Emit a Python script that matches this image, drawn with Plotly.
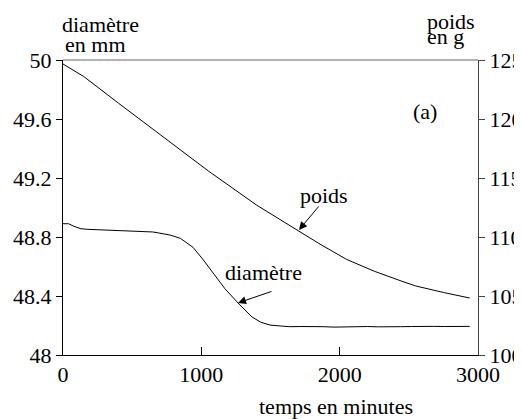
import plotly.graph_objects as go

# ---- data ----
poids_t = [0, 150, 400, 700, 1050, 1400, 1700, 1850, 2050, 2250, 2450, 2550, 2750, 2940]
poids_g = [124.66, 123.6, 121.35, 118.7, 115.6, 112.7, 110.5, 109.45, 108.1, 107.1, 106.25, 105.85, 105.3, 104.83]

diam_t = [0, 40, 80, 130, 180, 250, 320, 400, 460, 530, 600, 650, 700, 780, 850, 940, 1010, 1084,
          1170, 1265, 1366, 1430, 1496, 1580, 1640, 1720, 1800, 1880, 1960, 2040, 2120, 2200,
          2280, 2360, 2440, 2520, 2600, 2680, 2760, 2840, 2940]
diam_mm = [48.89, 48.89, 48.872, 48.856, 48.852, 48.849, 48.850, 48.846, 48.844, 48.842, 48.836, 48.834,
           48.826, 48.812, 48.79, 48.73, 48.65, 48.556, 48.45, 48.353, 48.258, 48.222, 48.203, 48.196,
           48.192, 48.193, 48.190, 48.192, 48.189, 48.192, 48.190, 48.193, 48.191, 48.194, 48.192,
           48.193, 48.191, 48.194, 48.193, 48.194, 48.194]

x_ticks = [0, 1000, 2000, 3000]
left_ticks = [48, 48.4, 48.8, 49.2, 49.6, 50]
left_labels = ["48", "48.4", "48.8", "49.2", "49.6", "50"]
right_ticks = [100, 105, 110, 115, 120, 125]

FONT = "Liberation Serif, Tinos, Times New Roman, Nimbus Roman, DejaVu Serif, serif"
FS = 22

fig = go.Figure()
fig.add_trace(go.Scatter(x=poids_t, y=poids_g, mode="lines", yaxis="y2",
                         line=dict(color="black", width=1), showlegend=False, hoverinfo="skip"))
fig.add_trace(go.Scatter(x=diam_t, y=diam_mm, mode="lines", yaxis="y",
                         line=dict(color="black", width=1), showlegend=False, hoverinfo="skip"))

common = dict(showgrid=False, zeroline=False, automargin=False)
fig.update_layout(
    template="none",
    width=522, height=419,
    margin=dict(l=55, r=52, t=52, b=72, pad=0),
    paper_bgcolor="white", plot_bgcolor="white",
    font=dict(family=FONT, size=FS, color="black"),
    xaxis=dict(range=[0, 3000], tickvals=x_ticks, ticks="inside", ticklen=8, tickcolor="black",
               showline=True, linecolor="black", linewidth=1,
               tickfont=dict(family=FONT, size=FS), **common),
    yaxis=dict(range=[48, 50], tickvals=left_ticks, ticktext=left_labels,
               ticks="outside", ticklen=6, tickcolor="black",
               showline=True, linecolor="black", linewidth=1,
               tickfont=dict(family=FONT, size=FS), **common),
    yaxis2=dict(range=[100, 125], tickvals=right_ticks, overlaying="y", side="right",
                ticks="outside", ticklen=6, tickcolor="#444",
                showline=True, linecolor="#444", linewidth=1,
                tickfont=dict(family=FONT, size=FS), **common),
    yaxis3=dict(range=[48, 50], tickvals=left_ticks, overlaying="y", side="left",
                ticks="inside", ticklen=7, tickcolor="black", showticklabels=False,
                showline=False, **common),
    yaxis4=dict(range=[100, 125], tickvals=right_ticks, overlaying="y", side="right",
                ticks="inside", ticklen=7, tickcolor="#444", showticklabels=False,
                showline=False, **common),
)

# top frame line
fig.add_shape(type="line", xref="paper", yref="paper", x0=0, x1=1, y0=1, y1=1,
              line=dict(color="#666", width=1))

ann = [
    dict(text="diamètre", x=-0.007, y=1.122, xanchor="left"),
    dict(text="en mm", x=0.0, y=1.051, xanchor="left"),
    dict(text="poids", x=0.872, y=1.132, xanchor="left"),
    dict(text="en g", x=0.872, y=1.081, xanchor="left"),
    dict(text="(a)", x=0.872, y=0.824, xanchor="center"),
    dict(text="poids", x=0.629, y=0.539, xanchor="center"),
    dict(text="diamètre", x=0.482, y=0.278, xanchor="center"),
    dict(text="temps en minutes", x=0.658, y=-0.173, xanchor="center"),
]
for a in ann:
    fig.add_annotation(xref="paper", yref="paper", showarrow=False, yanchor="middle",
                       font=dict(family=FONT, size=FS, color="black"), **a)

# arrows
fig.add_annotation(x=1706, y=110.6, xref="x", yref="y2", text="", showarrow=True,
                   ax=21, ay=-25, arrowhead=2, arrowsize=1.6, arrowwidth=1, arrowcolor="black")
fig.add_annotation(x=1265, y=48.353, xref="x", yref="y", text="", showarrow=True,
                   ax=35, ay=-12, arrowhead=2, arrowsize=1.6, arrowwidth=1, arrowcolor="black")

fig.write_html("out.html")
